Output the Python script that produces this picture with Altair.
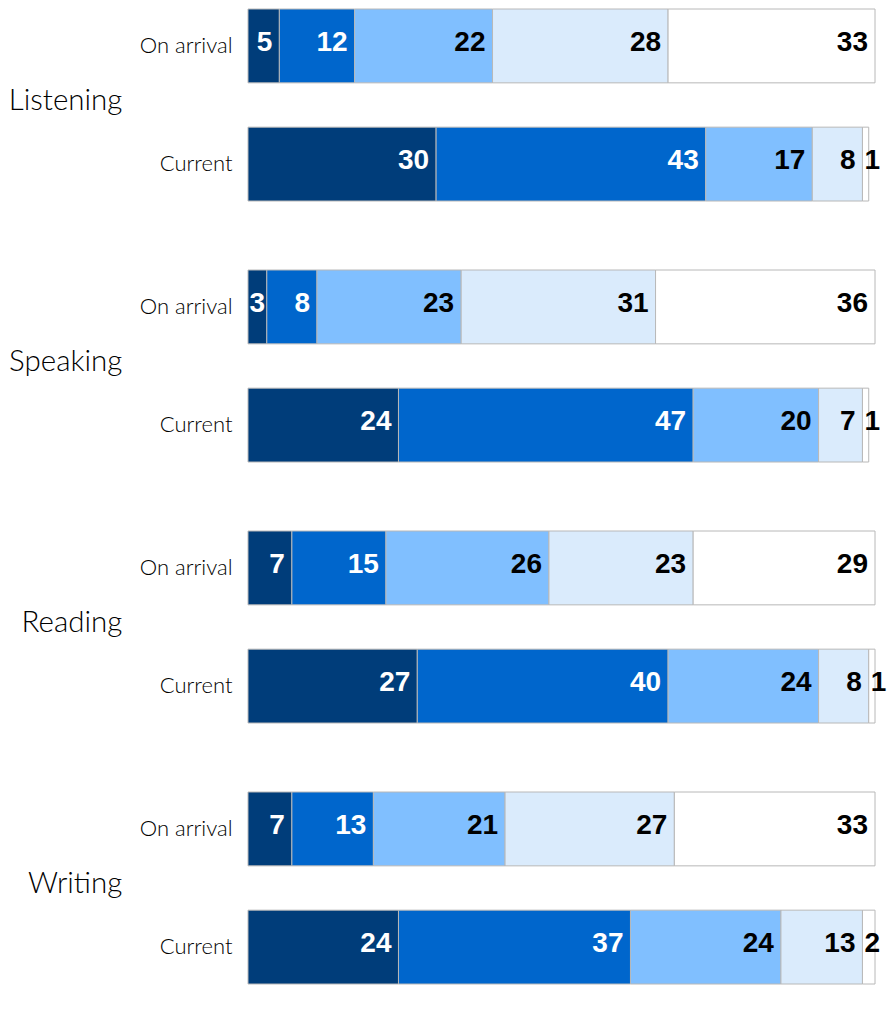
import altair as alt
import pandas as pd

LABEL_FONT = "Lato"
NUM_FONT = "Liberation Sans"

skills = ["Listening", "Speaking", "Reading", "Writing"]
times = ["On arrival", "Current"]
levels = ["Very well", "Well", "Fairly well", "A little", "Not at all"]
bar_colors = ["#003d7a", "#0066cc", "#80bfff", "#daebfc", "#ffffff"]

listening_arrival = [5, 12, 22, 28, 33]
listening_current = [30, 43, 17, 8, 1]
speaking_arrival = [3, 8, 23, 31, 36]
speaking_current = [24, 47, 20, 7, 1]
reading_arrival = [7, 15, 26, 23, 29]
reading_current = [27, 40, 24, 8, 1]
writing_arrival = [7, 13, 21, 27, 33]
writing_current = [24, 37, 24, 13, 2]

series = [
    ("Listening", "On arrival", listening_arrival),
    ("Listening", "Current", listening_current),
    ("Speaking", "On arrival", speaking_arrival),
    ("Speaking", "Current", speaking_current),
    ("Reading", "On arrival", reading_arrival),
    ("Reading", "Current", reading_current),
    ("Writing", "On arrival", writing_arrival),
    ("Writing", "Current", writing_current),
]

rows = []
for skill, time, vals in series:
    for i, (lev, v) in enumerate(zip(levels, vals)):
        rows.append(dict(skill=skill, time=time, level=lev, idx=i, value=v))
df = pd.DataFrame(rows)

PLOT_W = 627
PLOT_H = 192


def make_row(skill):
    xscale = alt.Scale(domain=[0, 100], clamp=True)
    yenc = alt.Y(
        "time:N",
        sort=times,
        scale=alt.Scale(paddingInner=0.375, paddingOuter=0),
        axis=alt.Axis(
            title=None, domain=False, ticks=False, grid=False,
            labelFontSize=22, labelFont=LABEL_FONT, labelFontWeight=300,
            labelColor="black", labelPadding=16,
        ),
    )
    base = alt.Chart(df).transform_filter(
        alt.datum.skill == skill
    ).transform_window(
        end="sum(value)",
        groupby=["time"],
        sort=[alt.SortField("idx")],
        frame=[None, 0],
    ).transform_calculate(
        start="datum.end - datum.value",
        mid="datum.end - datum.value / 2",
        tc="datum.idx < 2 ? 'white' : 'black'",
    )
    bars = base.mark_bar(stroke="#b8b8b8", strokeWidth=1).encode(
        x=alt.X("start:Q", scale=xscale, axis=None),
        x2="end:Q",
        y=yenc,
        color=alt.Color("level:N", scale=alt.Scale(domain=levels, range=bar_colors), legend=None),
    )
    txt = dict(baseline="middle", dy=-3, fontSize=28, fontWeight="bold", font=NUM_FONT)
    big_text = base.transform_filter("datum.value >= 5").mark_text(
        align="right", dx=-7, **txt
    ).encode(
        x=alt.X("end:Q", scale=xscale, axis=None),
        y=yenc,
        text="value:Q",
        color=alt.Color("tc:N", scale=None),
    )
    mid_text = base.transform_filter("datum.value >= 3 && datum.value < 5").mark_text(
        align="center", dx=0, **txt
    ).encode(
        x=alt.X("mid:Q", scale=xscale, axis=None),
        y=yenc,
        text="value:Q",
        color=alt.Color("tc:N", scale=None),
    )
    small_text = base.transform_filter("datum.value < 3").mark_text(
        align="left", dx=2, **txt
    ).encode(
        x=alt.X("start:Q", scale=xscale, axis=None),
        y=yenc,
        text="value:Q",
        color=alt.Color("tc:N", scale=None),
    )
    return alt.layer(bars, big_text, mid_text, small_text).properties(
        width=PLOT_W,
        height=PLOT_H,
        title=alt.TitleParams(
            text=skill, orient="left", angle=0, align="left", baseline="middle",
            anchor="middle", fontSize=29.5, font=LABEL_FONT, fontWeight=300,
            color="black", offset=17, dy=-4,
        ),
    )


chart = (
    alt.vconcat(*[make_row(s) for s in skills], spacing=69, bounds="flush")
    .properties(padding=0)
    .configure_view(stroke=None)
)

chart.save("out.html", embed_options={"renderer": "svg", "actions": False})
